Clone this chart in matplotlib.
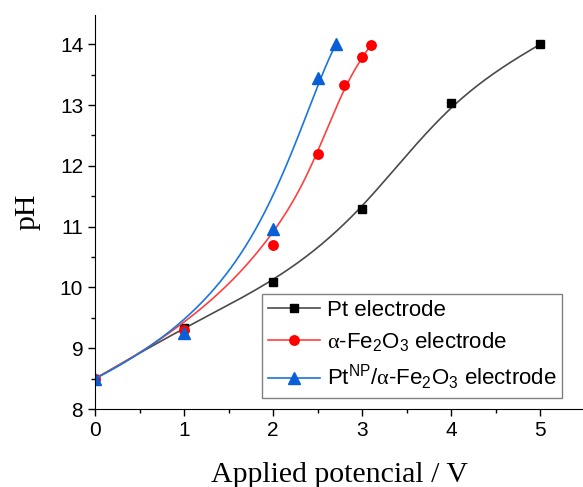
import numpy as np
import matplotlib.pyplot as plt
from matplotlib.ticker import MultipleLocator

# data
pt_v = [0, 1, 2, 3, 4, 5]
pt_ph = [8.5, 9.33, 10.09, 11.29, 13.03, 14.0]

fe_v = [0, 1, 2, 2.5, 2.8, 3.0, 3.1]
fe_ph = [8.5, 9.3, 10.7, 12.19, 13.33, 13.79, 13.99]

ptfe_v = [0, 1, 2, 2.5, 2.71]
ptfe_ph = [8.5, 9.25, 10.96, 13.44, 14.01]


def natural_spline(x, y, n=300):
    """natural cubic spline through the points"""
    x = np.asarray(x, float)
    y = np.asarray(y, float)
    k = len(x)
    h = np.diff(x)
    A = np.zeros((k, k))
    b = np.zeros(k)
    A[0, 0] = A[-1, -1] = 1
    for i in range(1, k - 1):
        A[i, i - 1] = h[i - 1]
        A[i, i] = 2 * (h[i - 1] + h[i])
        A[i, i + 1] = h[i]
        b[i] = 6 * ((y[i + 1] - y[i]) / h[i] - (y[i] - y[i - 1]) / h[i - 1])
    M = np.linalg.solve(A, b)
    xs = np.linspace(x[0], x[-1], n)
    j = np.clip(np.searchsorted(x, xs) - 1, 0, k - 2)
    t0 = x[j + 1] - xs
    t1 = xs - x[j]
    hj = h[j]
    ys = (M[j] * t0**3 / (6 * hj) + M[j + 1] * t1**3 / (6 * hj)
          + (y[j] / hj - M[j] * hj / 6) * t0
          + (y[j + 1] / hj - M[j + 1] * hj / 6) * t1)
    return xs, ys


def bspline(x, y, n=300, deg=3):
    """clamped B-spline with the data points as control points"""
    P = np.column_stack([x, y]).astype(float)
    k = len(P)
    deg = min(deg, k - 1)
    inner = np.linspace(0, 1, k - deg + 1)
    knots = np.concatenate([np.zeros(deg), inner, np.ones(deg)])
    t = np.linspace(0, 1, n)
    t[-1] -= 1e-12
    N = np.zeros((n, len(knots) - 1))
    for i in range(len(knots) - 1):
        N[:, i] = (t >= knots[i]) & (t < knots[i + 1])
    for d in range(1, deg + 1):
        Nn = np.zeros((n, len(knots) - 1 - d))
        for i in range(len(knots) - 1 - d):
            a = knots[i + d] - knots[i]
            b = knots[i + d + 1] - knots[i + 1]
            left = (t - knots[i]) / a * N[:, i] if a > 0 else 0
            right = (knots[i + d + 1] - t) / b * N[:, i + 1] if b > 0 else 0
            Nn[:, i] = left + right
        N = Nn
    curve = N @ P
    return curve[:, 0], curve[:, 1]


def blended(x, y):
    """half way between the interpolating spline and the B-spline"""
    xs, ys_nat = natural_spline(x, y)
    bx, by = bspline(x, y)
    ys_b = np.interp(xs, bx, by)
    return xs, 0.5 * (ys_nat + ys_b)


def main():
    plt.rcParams["mathtext.fontset"] = "custom"
    plt.rcParams["mathtext.rm"] = "Liberation Sans"
    plt.rcParams["mathtext.sf"] = "Liberation Serif"

    fig = plt.figure(figsize=(5.83, 4.87), dpi=100)
    ax = fig.add_axes([0.163, 0.160, 0.837, 0.809])

    series = [
        (pt_v, pt_ph, "#000000", "#4a4a4a", "s", 6, blended,
         "Pt electrode"),
        (fe_v, fe_ph, "#ff0000", "#ff4040", "o", 6.8, bspline,
         r"$\mathsf{\alpha}$-Fe$_2$O$_3$ electrode"),
        (ptfe_v, ptfe_ph, "#0a5fd6", "#1a75e0", "^", 8, bspline,
         r"Pt$^{\rm NP}$/$\mathsf{\alpha}$-Fe$_2$O$_3$ electrode"),
    ]
    for x, y, mc, lc, m, ms, smooth, lab in series:
        xs, ys = smooth(x, y)
        ax.plot(xs, ys, color=lc, lw=1.2)
        ax.plot(x, y, ls="none", marker=m, color=mc, ms=ms)
        ax.plot([], [], color=lc, lw=1.2, marker=m, mfc=mc, mec=mc, ms=ms, label=lab)

    ax.set_xlim(0, 5.48)
    ax.set_ylim(8, 14.48)
    ax.xaxis.set_major_locator(MultipleLocator(1))
    ax.xaxis.set_minor_locator(MultipleLocator(0.5))
    ax.yaxis.set_major_locator(MultipleLocator(1))
    ax.yaxis.set_minor_locator(MultipleLocator(0.5))
    ax.tick_params(which="major", direction="out", length=5, width=1,
                   labelsize=15, labelfontfamily="Liberation Sans")
    ax.tick_params(which="minor", direction="out", length=3, width=1)
    for s in ("top", "right"):
        ax.spines[s].set_visible(False)

    ax.set_xlabel("Applied potencial / V", fontsize=21.5,
                  family="Liberation Serif", labelpad=16)
    ax.set_ylabel("pH", fontsize=21.5, family="Liberation Serif", labelpad=14)

    leg = ax.legend(loc="lower right", bbox_to_anchor=(0.957, 0.028),
                    borderaxespad=0,
                    prop={"family": "Liberation Sans", "size": 16},
                    fancybox=False, edgecolor="#808080", framealpha=1,
                    handlelength=2.35, borderpad=0.25, labelspacing=0.42,
                    handletextpad=0.3)
    leg.get_frame().set_linewidth(1)

    fig.savefig("out.png", dpi=100)


if __name__ == "__main__":
    main()
